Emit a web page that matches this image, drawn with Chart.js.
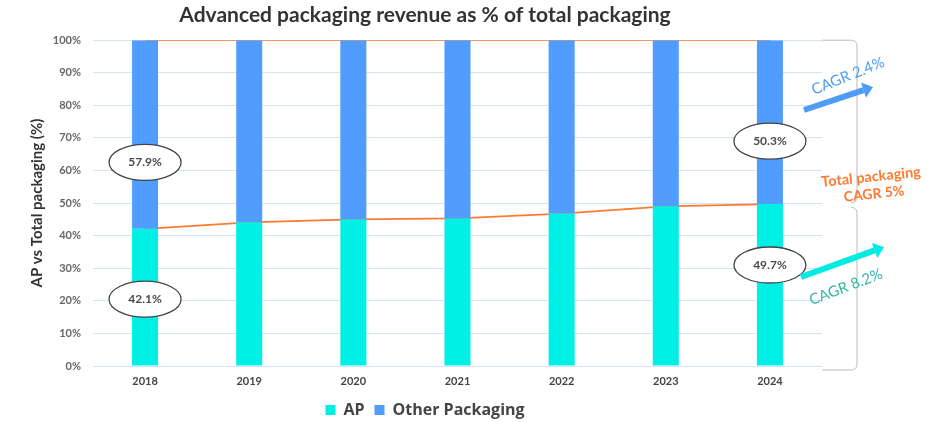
<!DOCTYPE html>
<html>
<head>
<meta charset="utf-8">
<script src="https://cdn.jsdelivr.net/npm/chart.js@4"></script>
<style>
  html, body { margin: 0; padding: 0; background: #fff; }
  #wrap { width: 934px; height: 422px; }
</style>
</head>
<body>
<div id="wrap"><canvas id="chart"></canvas></div>
<script>
const years = ['2018', '2019', '2020', '2021', '2022', '2023', '2024'];
const apShare = [42.1, 44.1, 45.0, 45.3, 46.8, 49.0, 49.7];
const otherShare = [57.9, 55.9, 55.0, 54.7, 53.2, 51.0, 50.3];
const totalLine = [100, 100, 100, 100, 100, 100, 100];
const yTicks = [0, 10, 20, 30, 40, 50, 60, 70, 80, 90, 100];

const FONT = 'Lato, "Open Sans", sans-serif';

// bubbles on first and last bar + CAGR notes on the right
const notesPlugin = {
  id: 'notes',
  afterDatasetsDraw(chart) {
    const { ctx, scales: { x, y } } = chart;

    function bubble(idx, level, text) {
      const cx = x.getPixelForValue(idx);
      const cy = y.getPixelForValue(level);
      ctx.save();
      ctx.beginPath();
      ctx.ellipse(cx, cy, 36, 18, 0, 0, Math.PI * 2);
      ctx.fillStyle = '#fff';
      ctx.fill();
      ctx.lineWidth = 1.3;
      ctx.strokeStyle = '#444';
      ctx.stroke();
      ctx.fillStyle = '#4a4a4a';
      ctx.font = 'bold 12px ' + FONT;
      ctx.textAlign = 'center';
      ctx.textBaseline = 'middle';
      ctx.fillText(text, cx, cy);
      ctx.restore();
    }
    const last = years.length - 1;
    bubble(0, 62.5, otherShare[0].toFixed(1) + '%');
    bubble(0, 20.5, apShare[0].toFixed(1) + '%');
    bubble(last, 69, otherShare[last].toFixed(1) + '%');
    bubble(last, 31, apShare[last].toFixed(1) + '%');

    // braces
    const right = chart.chartArea.right;
    const bx = right + 35;
    const yTop = y.getPixelForValue(100);
    const yMid = y.getPixelForValue(apShare[last]);
    const yBot = y.getPixelForValue(0) + 4;
    ctx.save();
    ctx.strokeStyle = '#bbb';
    ctx.lineWidth = 1;
    ctx.beginPath();
    ctx.moveTo(right, yTop);
    ctx.lineTo(bx - 6, yTop);
    ctx.quadraticCurveTo(bx, yTop, bx, yTop + 6);
    ctx.lineTo(bx, yMid - 6);
    ctx.quadraticCurveTo(bx, yMid - 2, bx - 6, yMid - 1);
    ctx.moveTo(bx - 6, yMid + 3);
    ctx.quadraticCurveTo(bx, yMid + 4, bx, yMid + 9);
    ctx.lineTo(bx, yBot - 6);
    ctx.quadraticCurveTo(bx, yBot, bx - 6, yBot);
    ctx.lineTo(right, yBot);
    ctx.stroke();
    ctx.restore();

    function arrow(x1, y1, x2, y2, color) {
      const a = Math.atan2(y2 - y1, x2 - x1);
      const hx = x2 - Math.cos(a) * 10, hy = y2 - Math.sin(a) * 10;
      ctx.save();
      ctx.strokeStyle = color;
      ctx.fillStyle = color;
      ctx.lineWidth = 6;
      ctx.beginPath();
      ctx.moveTo(x1, y1);
      ctx.lineTo(hx, hy);
      ctx.stroke();
      ctx.beginPath();
      ctx.moveTo(x2, y2);
      ctx.lineTo(hx + Math.sin(a) * 8, hy - Math.cos(a) * 8);
      ctx.lineTo(hx - Math.sin(a) * 8, hy + Math.cos(a) * 8);
      ctx.closePath();
      ctx.fill();
      ctx.restore();
    }
    function note(text, cx, cy, ang, color, font) {
      ctx.save();
      ctx.translate(cx, cy);
      ctx.rotate(ang * Math.PI / 180);
      ctx.fillStyle = color;
      ctx.font = font;
      ctx.textAlign = 'center';
      ctx.textBaseline = 'middle';
      ctx.fillText(text, 0, 0);
      ctx.restore();
    }
    arrow(804, 110, 873, 87, '#4f9cf7');
    note('CAGR 2.4%', 848, 76, -22, '#4f9cf7', '15px ' + FONT);
    note('Total packaging', 871, 177, -6, '#ff7a30', 'bold 14.5px ' + FONT);
    note('CAGR 5%', 874, 194, -6, '#ff7a30', 'bold 14px ' + FONT);
    arrow(801, 277, 884, 247, '#00ece2');
    note('CAGR 8.2%', 846, 287, -21, '#35b5aa', '15px ' + FONT);
  }
};

new Chart(document.getElementById('chart'), {
  data: {
    labels: years,
    datasets: [
      {
        type: 'line',
        label: 'AP line',
        data: apShare,
        borderColor: '#ff7a30',
        borderWidth: 1.8,
        pointRadius: 0,
        tension: 0,
        order: 3,
        stack: 'l1'
      },
      {
        type: 'line',
        label: 'Total',
        data: totalLine,
        borderColor: '#ff7a30',
        borderWidth: 1.8,
        pointRadius: 0,
        order: 3,
        stack: 'l2'
      },
      {
        type: 'bar',
        label: 'AP',
        data: apShare,
        backgroundColor: '#00f0e6',
        stack: 'bars',
        order: 1
      },
      {
        type: 'bar',
        label: 'Other Packaging',
        data: otherShare,
        backgroundColor: '#519dff',
        stack: 'bars',
        order: 1
      }
    ]
  },
  options: {
    responsive: true,
    maintainAspectRatio: false,
    animation: false,
    layout: { padding: { left: 28, right: 112, top: 0, bottom: -6 } },
    datasets: { bar: { categoryPercentage: 1, barPercentage: 0.25 } },
    scales: {
      x: {
        stacked: true,
        grid: { display: false, drawTicks: false, tickLength: 0 },
        border: { display: false },
        ticks: { color: '#444', font: { family: FONT, size: 11, weight: 'bold' }, padding: 9 },
        afterFit: s => { s.height = 26; }
      },
      y: {
        stacked: true,
        min: 0,
        max: 100,
        afterBuildTicks: s => { s.ticks = yTicks.map(v => ({ value: v })); },
        afterFit: s => { s.width = 65; },
        grid: { color: '#d3e3fb', drawTicks: false },
        border: { display: false },
        ticks: {
          color: '#666',
          padding: 12,
          font: { family: FONT, size: 11, weight: 'bold' },
          callback: v => v + '%'
        },
        title: {
          display: true,
          text: 'AP vs Total packaging (%)',
          color: '#333',
          font: { family: FONT, size: 15, weight: 'bold' },
          padding: { top: 0, bottom: 3 }
        }
      }
    },
    plugins: {
      title: {
        display: true,
        text: 'Advanced packaging revenue as % of total packaging',
        color: '#333',
        font: { family: FONT, size: 21, weight: 'bold' },
        padding: { top: 3, bottom: 12 }
      },
      legend: {
        position: 'bottom',
        labels: {
          filter: item => item.text === 'AP' || item.text === 'Other Packaging',
          boxWidth: 10,
          boxHeight: 10,
          padding: 10,
          color: '#444',
          font: { family: '"Open Sans", sans-serif', size: 16, weight: 'bold' }
        }
      },
      tooltip: { enabled: false }
    }
  },
  plugins: [notesPlugin]
});
</script>
</body>
</html>
